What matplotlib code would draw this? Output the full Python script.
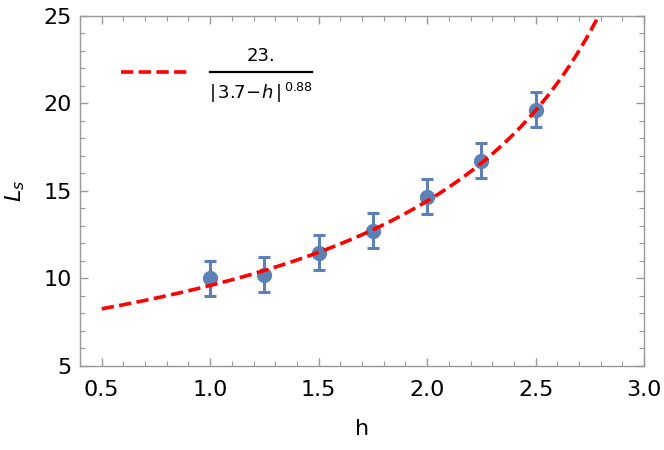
import numpy as np
import matplotlib.pyplot as plt
from matplotlib.ticker import MultipleLocator

# measured points
h_vals = [1.0, 1.25, 1.5, 1.75, 2.0, 2.25, 2.5]
ls_vals = [10.0, 10.2, 11.46, 12.73, 14.67, 16.71, 19.63]
ls_err = [1.0, 1.0, 1.0, 1.0, 1.0, 1.0, 1.0]

# fit parameters shown in the legend
amp = 23.0
h_c = 3.7
nu = 0.88

plt.rcParams['font.family'] = ['DejaVu Sans']
fig = plt.figure(figsize=(6.64, 4.5), dpi=100)
ax = fig.add_axes([0.1205, 0.1867, 0.8495, 0.7783])

h_fit = np.linspace(0.5, 3.0, 400)
ax.plot(h_fit, amp / np.abs(h_c - h_fit) ** nu, color='#ff0000', lw=2.6,
        dashes=(3.4, 1.5), zorder=3)

ax.errorbar(h_vals, ls_vals, yerr=ls_err, fmt='o', color='#5e81b5',
            ms=10, elinewidth=2.2, capsize=4, capthick=2.2, zorder=2)

ax.set_xlim(0.4, 3.0)
ax.set_ylim(5, 25)
ax.xaxis.set_major_locator(MultipleLocator(0.5))
ax.xaxis.set_minor_locator(MultipleLocator(0.1))
ax.yaxis.set_major_locator(MultipleLocator(5))
ax.yaxis.set_minor_locator(MultipleLocator(1))
ax.xaxis.set_major_formatter(plt.FormatStrFormatter('%.1f'))

for s in ax.spines.values():
    s.set_color('#999999')
    s.set_linewidth(1.0)
ax.tick_params(which='both', direction='in', top=True, right=True,
               color='#999999', labelsize=16)
ax.tick_params(axis='x', pad=10)
ax.tick_params(axis='y', pad=6)
ax.tick_params(which='major', length=6, width=1)
ax.tick_params(which='minor', length=3.5, width=0.8)

ax.set_xlabel('h', fontsize=16, labelpad=14)
ax.set_ylabel('$L_s$', fontsize=16, labelpad=12)

# legend drawn by hand in Mathematica style
ax.plot([0.59, 0.9], [21.8, 21.8], color='#ff0000', lw=2.6, dashes=(3.4, 1.5),
        clip_on=False)
ax.plot([1.0, 1.47], [21.8, 21.8], color='black', lw=1.6)
ax.text(1.235, 22.2, '23.', ha='center', va='bottom', fontsize=13)
ax.text(1.235, 21.3, r'$|\,3.7\!-\!h\,|^{\,0.88}$', ha='center', va='top', fontsize=13)

fig.savefig('out.png', dpi=100)
